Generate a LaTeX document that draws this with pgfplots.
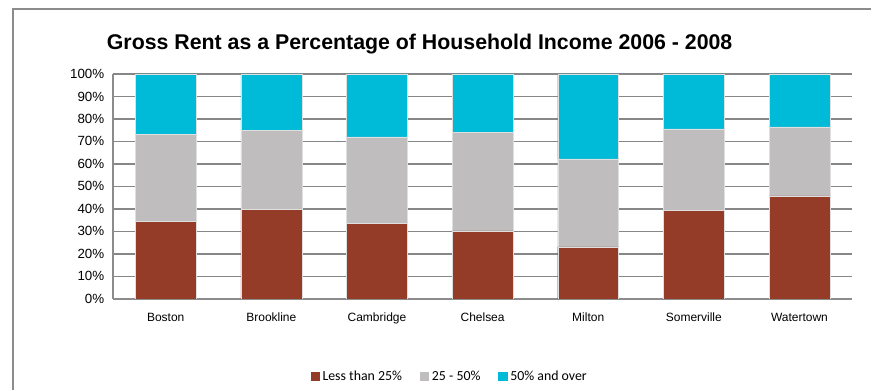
\documentclass[border=0pt]{standalone}
\usepackage{pgfplots}
\pgfplotsset{compat=1.18}
\usepackage{fontspec}
\setmainfont{Liberation Sans}
\newfontfamily\calibri{Carlito}
\definecolor{cLess}{HTML}{943C27}
\definecolor{cMid}{HTML}{BFBDBE}
\definecolor{cTop}{HTML}{00BBD7}
\definecolor{cGrid}{HTML}{878787}
\definecolor{cFrame}{HTML}{8C8C8C}
\begin{document}
\begin{tikzpicture}
\path (0pt,0pt) rectangle (654pt,292.5pt);
\draw[cFrame, line width=1.1pt] (9.75pt,0pt) -- (9.75pt,285.75pt) -- (654pt,285.75pt);
\node[font=\fontsize{16}{18}\selectfont\bfseries] at (315pt,259.5pt) {Gross Rent as a Percentage of Household Income 2006 - 2008};
\begin{axis}[
  at={(84.75pt,68.25pt)}, anchor=south west,
  scale only axis, width=555pt, height=168.75pt,
  ybar stacked, bar width=45.75pt,
  xmin=-0.5, xmax=6.5, ymin=0, ymax=100,
  xtick={0,...,6},
  xticklabels={Boston,Brookline,Cambridge,Chelsea,Milton,Somerville,Watertown},
  ytick={0,10,...,100},
  yticklabel={\pgfmathprintnumber{\tick}\%},
  /pgf/number format/assume math mode=true,
  major tick length=0pt,
  axis x line*=bottom, axis y line*=left,
  x axis line style={cFrame, line width=1.8pt},
  y axis line style={cFrame, line width=1.1pt},
  ymajorgrids, grid style={cGrid, line width=1.1pt},
  tick label style={font=\fontsize{9}{11}\selectfont},
  yticklabel style={font=\fontsize{10}{12}\selectfont, xshift=-3pt},
  xticklabel style={yshift=-7pt},
  legend style={at={(0.456,-0.347)}, anchor=center, draw=none, fill=none,
    font=\calibri\fontsize{10.4}{12}\selectfont, inner sep=0pt,
    /tikz/every even column/.append style={column sep=11.5pt}},
  legend columns=3,
  legend image code/.code={\path[#1, draw=none] (0pt,-3.4pt) rectangle (6.9pt,3.4pt);},
  legend cell align=left,
  every axis plot/.append style={draw=white!75!gray, line width=0.3pt},
]
\addplot[fill=cLess] coordinates {(0,34.5) (1,39.9) (2,33.6) (3,30.2) (4,23.1) (5,39.3) (6,45.8)};
\addplot[fill=cMid] coordinates {(0,38.5) (1,35.1) (2,38.4) (3,43.9) (4,39.1) (5,36.3) (6,30.6)};
\addplot[fill=cTop] coordinates {(0,27.0) (1,25.0) (2,28.0) (3,25.9) (4,37.8) (5,24.4) (6,23.6)};
\legend{Less than 25\%, 25 - 50\%, 50\% and over}
\end{axis}
\end{tikzpicture}
\end{document}
